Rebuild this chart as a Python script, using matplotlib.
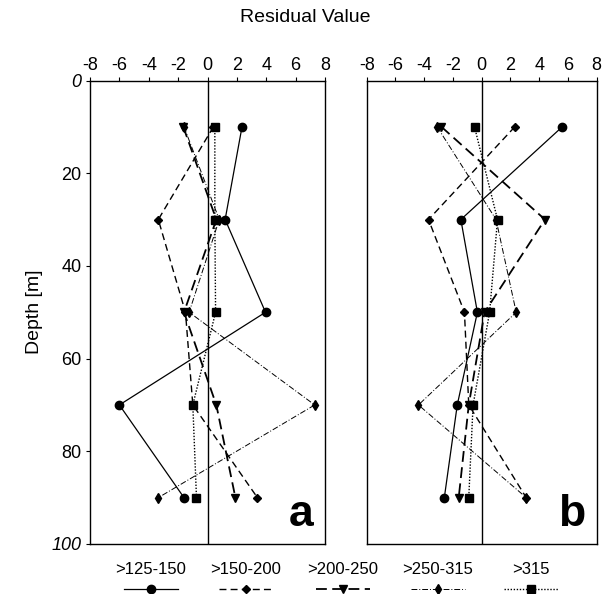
import matplotlib

matplotlib.use("Agg")
import matplotlib.pyplot as plt
from matplotlib.lines import Line2D

plt.rcParams["font.family"] = ["Liberation Sans", "DejaVu Sans"]
plt.rcParams["axes.unicode_minus"] = False

depths = [10, 30, 50, 70, 90]
classes = [">125-150", ">150-200", ">200-250", ">250-315", ">315"]

# residual values, one list per size class
panel_a = {
    ">125-150": [2.35, 1.2, 3.95, -6.0, -1.6],
    ">150-200": [0.4, -3.35, -1.5, -1.0, 3.4],
    ">200-250": [-1.65, 0.6, -1.6, 0.6, 1.9],
    ">250-315": [-1.6, 0.8, -1.25, 7.3, -3.35],
    ">315": [0.5, 0.5, 0.55, -1.0, -0.75],
}
panel_b = {
    ">125-150": [5.6, -1.45, -0.3, -1.7, -2.6],
    ">150-200": [2.3, -3.7, -1.2, -0.9, 3.1],
    ">200-250": [-2.8, 4.4, 0.2, -0.9, -1.6],
    ">250-315": [-3.1, 1.0, 2.4, -4.4, 3.1],
    ">315": [-0.5, 1.1, 0.55, -0.6, -0.9],
}

styles = {
    ">125-150": dict(linestyle="-", marker="o", markersize=6, linewidth=0.9),
    ">150-200": dict(linestyle=(0, (5, 3)), marker="D", markersize=4.5, linewidth=1.0),
    ">200-250": dict(linestyle=(0, (6, 3)), marker="v", markersize=6, linewidth=1.3),
    ">250-315": dict(linestyle=(0, (6, 2, 1, 2)), marker="d", markersize=5, linewidth=0.7),
    ">315": dict(linestyle=(0, (1, 1.2)), marker="s", markersize=6, linewidth=1.0),
}

fig = plt.figure(figsize=(6.1, 5.94), dpi=100)
ax_a = fig.add_axes([90 / 610, 1 - 544 / 594, 235 / 610, 463.5 / 594])
ax_b = fig.add_axes([366.7 / 610, 1 - 544 / 594, 230 / 610, 463.5 / 594])

for ax, data, tag in [(ax_a, panel_a, "a"), (ax_b, panel_b, "b")]:
    for name in classes:
        ax.plot(data[name], depths, color="black", **styles[name])
    ax.axvline(0, color="black", linewidth=1.0)
    ax.set_xlim(-8, 8)
    ax.set_ylim(100, 0)
    ax.xaxis.tick_top()
    ax.set_xticks(range(-8, 9, 2))
    ax.tick_params(axis="x", direction="out", length=3, labelsize=13, pad=2)
    for spine in ax.spines.values():
        spine.set_linewidth(1.0)
    ax.text(0.95, 0.02, tag, transform=ax.transAxes, fontsize=32,
            fontweight="bold", ha="right", va="bottom")

ax_a.set_yticks(range(0, 101, 20))
ax_a.set_yticklabels(["0", "20", "40", "60", "80", "100"])
ax_a.tick_params(axis="y", direction="out", length=3, labelsize=13, pad=3)
for lab in (ax_a.get_yticklabels()[0], ax_a.get_yticklabels()[-1]):
    lab.set_fontstyle("italic")
ax_a.set_ylabel("Depth [m]", fontsize=14, labelpad=6)
ax_b.set_yticks([])

fig.text(0.5, 1 - 18 / 594, "Residual Value", ha="center", va="center", fontsize=14)

# legend: label above a short line sample with the marker in the middle
centers = [151, 246, 343, 438, 531]
for name, cx in zip(classes, centers):
    fx = cx / 610
    fig.text(fx, 1 - 569 / 594, name, ha="center", va="center", fontsize=12)
    half = 27 / 610
    fy = 1 - 589 / 594
    st = dict(styles[name])
    fig.add_artist(Line2D([fx - half, fx, fx + half], [fy, fy, fy],
                          transform=fig.transFigure, color="black",
                          markevery=[1], **st))

fig.savefig("out.png", dpi=100)
